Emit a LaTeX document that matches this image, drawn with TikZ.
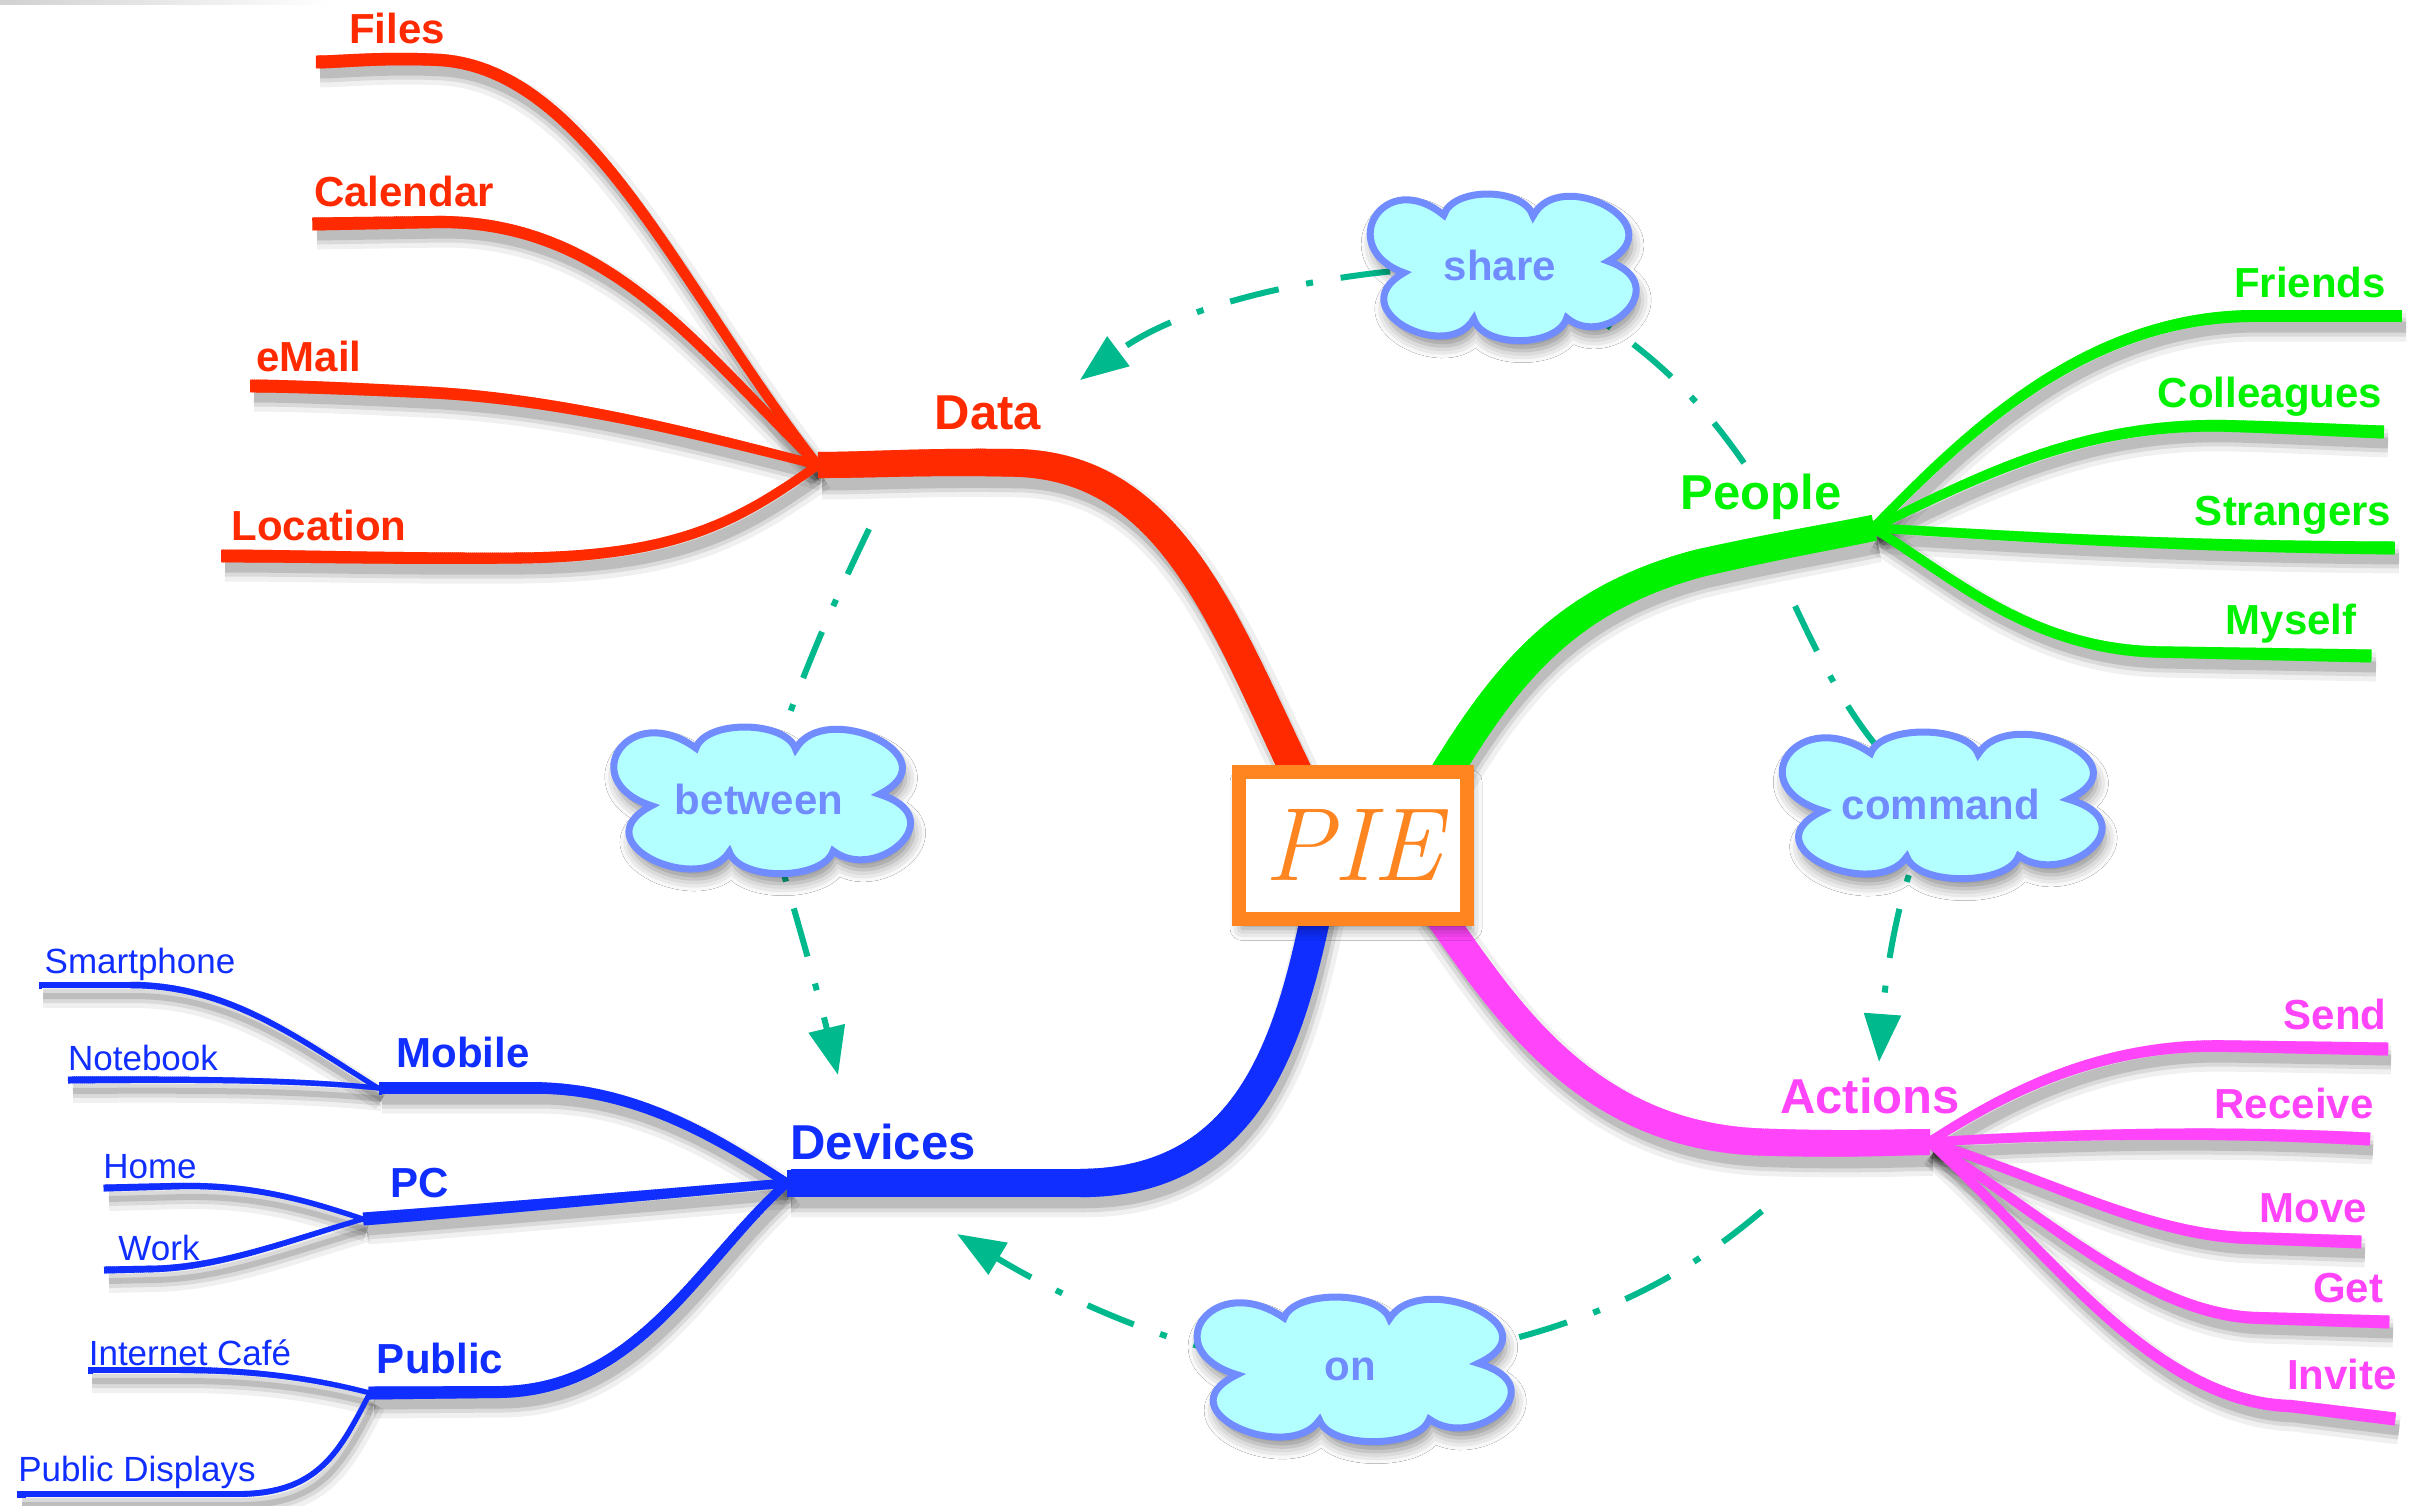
\documentclass[tikz,border=0pt]{standalone}
\usepackage{fontspec}
\newfontfamily\lab{Liberation Sans}
\usetikzlibrary{shapes.symbols,arrows.meta,decorations.markings,shadows.blur}
\definecolor{cRed}{HTML}{FF2A00}
\definecolor{cGreen}{HTML}{00F200}
\definecolor{cBlue}{HTML}{0F2EFF}
\definecolor{cMag}{HTML}{FF44FA}
\definecolor{cOrange}{HTML}{FF8520}
\definecolor{cTeal}{HTML}{00B98C}
\definecolor{cCloud}{HTML}{B3FFFF}
\definecolor{cCloudEdge}{HTML}{708CFF}

% tapered branch: colour, start width, end width, path
\newcommand\tbranch[4]{%
  \path[decorate,decoration={markings,
    mark=between positions 0 and 1 step 2pt with {%
      \pgfmathsetmacro\hw{(#2+(#3-#2)*\pgfkeysvalueof{/pgf/decoration/mark info/distance from start}/\pgfdecoratedpathlength)/2}%
      \fill[#1] (-1.5pt,-\hw pt) rectangle (1.5pt,\hw pt);}}] #4;}
% soft shadow of a branch
\newcommand\bshadow[4]{%
  \pgfmathsetmacro\bw{(#2+#3)/2}%
  \begin{scope}[transform canvas={shift={(4pt,-11pt)}}]
    \draw[black,opacity=0.06,line width=\bw pt+18pt] #4;
    \draw[black,opacity=0.09,line width=\bw pt+8pt] #4;
    \draw[black,opacity=0.13,line width=\bw pt] #4;
  \end{scope}}

% cloud outline: centre x, centre y, half width, half height
\newcommand\cloudpath[4]{%
 ({#1-0.718*#3},{#2+0.08*#4})
 .. controls ({#1-1.218*#3},{#2-0.267*#4}) and ({#1-0.865*#3},{#2-1.40*#4}) .. ({#1-0.429*#3},{#2-0.72*#4})
 .. controls ({#1-0.365*#3},{#2-1.12*#4}) and ({#1+0.154*#3},{#2-1.107*#4}) .. ({#1+0.218*#3},{#2-0.707*#4})
 .. controls ({#1+0.404*#3},{#2-1.413*#4}) and ({#1+1.25*#3},{#2-0.6*#4}) .. ({#1+0.763*#3},{#2-0.08*#4})
 .. controls ({#1+1.25*#3},{#2+0.25*#4}) and ({#1+0.737*#3},{#2+1.16*#4}) .. ({#1+0.462*#3},{#2+0.707*#4})
 .. controls ({#1+0.397*#3},{#2+1.12*#4}) and ({#1-0.147*#3},{#2+1.133*#4}) .. ({#1-0.212*#3},{#2+0.72*#4})
 .. controls ({#1-0.397*#3},{#2+1.347*#4}) and ({#1-1.186*#3},{#2+0.6*#4}) .. ({#1-0.718*#3},{#2+0.08*#4}) -- cycle}

\newcommand\allbranches{%
  % main branches
  \B{cRed}{32}{26}{(pieR) .. controls (1230,640) and (1180,470) .. (1020,463) .. controls (930,461) and (870,465) .. (dataJ)}
  \B{cGreen}{32}{26}{(pieG) .. controls (1500,680) and (1560,600) .. (1700,563) .. controls (1780,545) and (1830,537) .. (pplJ)}
  \B{cBlue}{30}{27}{(pieB) .. controls (1290,1040) and (1250,1183) .. (1080,1183) .. controls (950,1183) and (860,1183) .. (devJ)}
  \B{cMag}{30}{26}{(pieM) .. controls (1500,1000) and (1580,1135) .. (1760,1142) .. controls (1850,1145) and (1900,1142) .. (actJ)}
  % red
  \B{cRed}{9}{13}{(dataJ) .. controls (680,290) and (590,70) .. (440,60) .. controls (380,57) and (340,62) .. (filesE)}
  \B{cRed}{9}{13}{(dataJ) .. controls (700,350) and (610,222) .. (440,222) -- (calE)}
  \B{cRed}{9}{13}{(dataJ) .. controls (700,435) and (560,398) .. (420,392) .. controls (340,388) and (280,386) .. (emailE)}
  \B{cRed}{9}{13}{(dataJ) .. controls (740,520) and (680,556) .. (520,558) .. controls (400,559) and (300,556) .. (locE)}
  % green
  \B{cGreen}{9}{13}{(pplJ) .. controls (1960,440) and (2080,318) .. (2250,316) -- (friendsE)}
  \B{cGreen}{9}{13}{(pplJ) .. controls (1990,470) and (2090,422) .. (2230,426) .. controls (2300,428) and (2350,431) .. (collE)}
  \B{cGreen}{9}{13}{(pplJ) .. controls (2000,535) and (2150,546) .. (strE)}
  \B{cGreen}{9}{13}{(pplJ) .. controls (1950,575) and (2030,650) .. (2160,652) -- (myE)}
  % magenta
  \B{cMag}{9}{13}{(actJ) .. controls (2010,1090) and (2100,1045) .. (2220,1046) -- (sendE)}
  \B{cMag}{9}{13}{(actJ) .. controls (2050,1135) and (2200,1130) .. (recE)}
  \B{cMag}{9}{13}{(actJ) .. controls (2050,1180) and (2150,1236) .. (2250,1238) -- (moveE)}
  \B{cMag}{9}{13}{(actJ) .. controls (2050,1220) and (2150,1316) .. (2260,1318) -- (getE)}
  \B{cMag}{9}{13}{(actJ) .. controls (2040,1240) and (2150,1402) .. (2290,1406) -- (invE)}
  % blue
  \B{cBlue}{9}{13}{(devJ) .. controls (720,1140) and (640,1090) .. (540,1088) -- (mobJ)}
  \B{cBlue}{9}{13}{(devJ) .. controls (650,1195) and (480,1210) .. (pcJ)}
  \B{cBlue}{9}{13}{(devJ) .. controls (700,1260) and (640,1390) .. (500,1392) -- (pubJ)}
  \B{cBlue}{5}{7}{(mobJ) .. controls (300,1040) and (230,985) .. (130,985) -- (smartE)}
  \B{cBlue}{5}{7}{(mobJ) .. controls (300,1080) and (200,1079) .. (noteE)}
  \B{cBlue}{5}{7}{(pcJ) .. controls (300,1198) and (250,1185) .. (180,1186) -- (homeE)}
  \B{cBlue}{5}{7}{(pcJ) .. controls (290,1240) and (220,1268) .. (150,1269) -- (workE)}
  \B{cBlue}{5}{7}{(pubJ) .. controls (320,1380) and (260,1370) .. (180,1370) -- (cafeE)}
  \B{cBlue}{5}{7}{(pubJ) .. controls (340,1450) and (320,1493) .. (240,1494) -- (dispE)}
}

\tikzset{
  lmain/.style={font=\lab\bfseries\fontsize{49}{50}\selectfont, inner sep=0pt, text depth=0pt},
  lsub/.style={font=\lab\bfseries\fontsize{42}{44}\selectfont, inner sep=0pt, text depth=0pt},
  lleaf/.style={font=\lab\fontsize{35}{36}\selectfont, inner sep=0pt, text depth=0pt, text=cBlue},
  cloudbody/.style={draw=cCloudEdge, line width=7pt, fill=cCloud,
    blur shadow={shadow xshift=3pt, shadow yshift=-10pt, shadow blur radius=12pt, shadow opacity=45}},
  cloudtext/.style={text=cCloudEdge, inner sep=0pt, text depth=0pt,
    font=\lab\bfseries\fontsize{42}{44}\selectfont},
  conn/.style={draw=cTeal, line width=6pt, dash pattern=on 50pt off 28pt on 7pt off 28pt},
  arrowconn/.style={-{Triangle[length=48pt,width=36pt]}}
}

\begin{document}
\begin{tikzpicture}[x=1pt,y=-1pt]
\useasboundingbox (0,0) rectangle (2419,1506);
\fill[white] (0,0) rectangle (2419,1506);
\fill[left color=black!18, right color=white] (0,0) rectangle (330,5);

% junctions and ends
\coordinate (pieR) at (1310,800);
\coordinate (pieG) at (1430,800);
\coordinate (pieB) at (1318,905);
\coordinate (pieM) at (1432,905);
\coordinate (dataJ) at (818,465);
\coordinate (pplJ) at (1873,528);
\coordinate (devJ) at (787,1183);
\coordinate (actJ) at (1929,1142);
\coordinate (mobJ) at (378,1088);
\coordinate (pcJ) at (363,1219);
\coordinate (pubJ) at (370,1393);
\coordinate (filesE) at (316,62);
\coordinate (calE) at (313,224);
\coordinate (emailE) at (250,386);
\coordinate (locE) at (221,556);
\coordinate (friendsE) at (2402,316);
\coordinate (collE) at (2384,432);
\coordinate (strE) at (2395,548);
\coordinate (myE) at (2372,656);
\coordinate (sendE) at (2387,1049);
\coordinate (recE) at (2369,1139);
\coordinate (moveE) at (2361,1242);
\coordinate (getE) at (2389,1322);
\coordinate (invE) at (2395,1419);
\coordinate (smartE) at (39,985);
\coordinate (noteE) at (69,1080);
\coordinate (homeE) at (105,1188);
\coordinate (workE) at (105,1270);
\coordinate (cafeE) at (88,1370);
\coordinate (dispE) at (18,1494);

% connector ends
\coordinate (pplA) at (1744,463);
\coordinate (dataA) at (1080,380);
\coordinate (dataB) at (869,529);
\coordinate (devA) at (838,1075);
\coordinate (pplB) at (1795,606);
\coordinate (actA) at (1879,1062);
\coordinate (actB) at (1762,1211);
\coordinate (devB) at (957,1234);

% shadows, then branches
\let\B\bshadow
\allbranches
\let\B\tbranch
\allbranches

% cloud centres
\path (1503,267) coordinate (shareC) (762,800) coordinate (betweenC)
      (1942,805) coordinate (commandC) (1354,1369) coordinate (onC);

% connectors
\draw[conn] (pplA) .. controls (1700,400) and (1640,330) .. (shareC);
\draw[conn,arrowconn] (shareC) .. controls (1400,262) and (1200,290) .. (dataA);
\draw[conn] (dataB) .. controls (830,610) and (790,700) .. (betweenC);
\draw[conn,arrowconn] (betweenC) .. controls (780,860) and (815,980) .. (devA);
\draw[conn] (pplB) .. controls (1830,680) and (1870,760) .. (commandC);
\draw[conn,arrowconn] (commandC) .. controls (1900,860) and (1885,980) .. (actA);
\draw[conn] (actB) .. controls (1680,1280) and (1580,1340) .. (onC);
\draw[conn,arrowconn] (onC) .. controls (1200,1370) and (1050,1290) .. (devB);

% clouds
\filldraw[cloudbody] \cloudpath{1503}{267}{138}{72};
\filldraw[cloudbody] \cloudpath{762}{800}{154}{72};
\filldraw[cloudbody] \cloudpath{1942}{805}{166}{72};
\filldraw[cloudbody] \cloudpath{1354}{1369}{163}{71};
\node[cloudtext] (share) at (1500,265) {share};
\node[cloudtext] (between) at (759,799) {between};
\node[cloudtext] (command) at (1941,804) {command};
\node[cloudtext] (on) at (1350,1369) {on};

% central box
\node[draw=cOrange, line width=14pt, fill=white, minimum width=228pt, minimum height=147pt, inner sep=0pt,
      blur shadow={shadow xshift=3pt, shadow yshift=-10pt, shadow blur radius=12pt, shadow opacity=45}]
  (pie) at (1353,845) {\fontsize{104}{104}\selectfont\itshape\textcolor{cOrange}{PIE}};

% main labels
\node[lmain, text=cRed] (data) at (988,413) {Data};
\node[lmain, text=cGreen] (people) at (1761,492) {People};
\node[lmain, text=cBlue] (devices) at (883,1142) {Devices};
\node[lmain, text=cMag] (actions) at (1870,1096) {Actions};

% sub labels
\node[lsub, text=cRed] (files) at (397,28) {Files};
\node[lsub, text=cRed] (calendar) at (404,191) {Calendar};
\node[lsub, text=cRed] (email) at (309,356) {eMail};
\node[lsub, text=cRed] (location) at (319,525) {Location};
\node[lsub, text=cGreen] (friends) at (2310,282) {Friends};
\node[lsub, text=cGreen] (colleagues) at (2270,392) {Colleagues};
\node[lsub, text=cGreen] (strangers) at (2293,511) {Strangers};
\node[lsub, text=cGreen] (myself) at (2291,619) {Myself};
\node[lsub, text=cMag] (send) at (2335,1014) {Send};
\node[lsub, text=cMag] (receive) at (2294,1103) {Receive};
\node[lsub, text=cMag] (move) at (2313,1208) {Move};
\node[lsub, text=cMag] (get) at (2348,1288) {Get};
\node[lsub, text=cMag] (invite) at (2342,1374) {Invite};
\node[lsub, text=cBlue] (mobile) at (463,1052) {Mobile};
\node[lsub, text=cBlue] (pc) at (420,1183) {PC};
\node[lsub, text=cBlue] (public) at (440,1358) {Public};

% leaf labels
\node[lleaf] (smartphone) at (140,961) {Smartphone};
\node[lleaf] (notebook) at (143,1058) {Notebook};
\node[lleaf] (home) at (150,1166) {Home};
\node[lleaf] (work) at (159,1248) {Work};
\node[lleaf] (cafe) at (190,1353) {Internet Café};
\node[lleaf] (displays) at (137,1469) {Public Displays};
\end{tikzpicture}
\end{document}
